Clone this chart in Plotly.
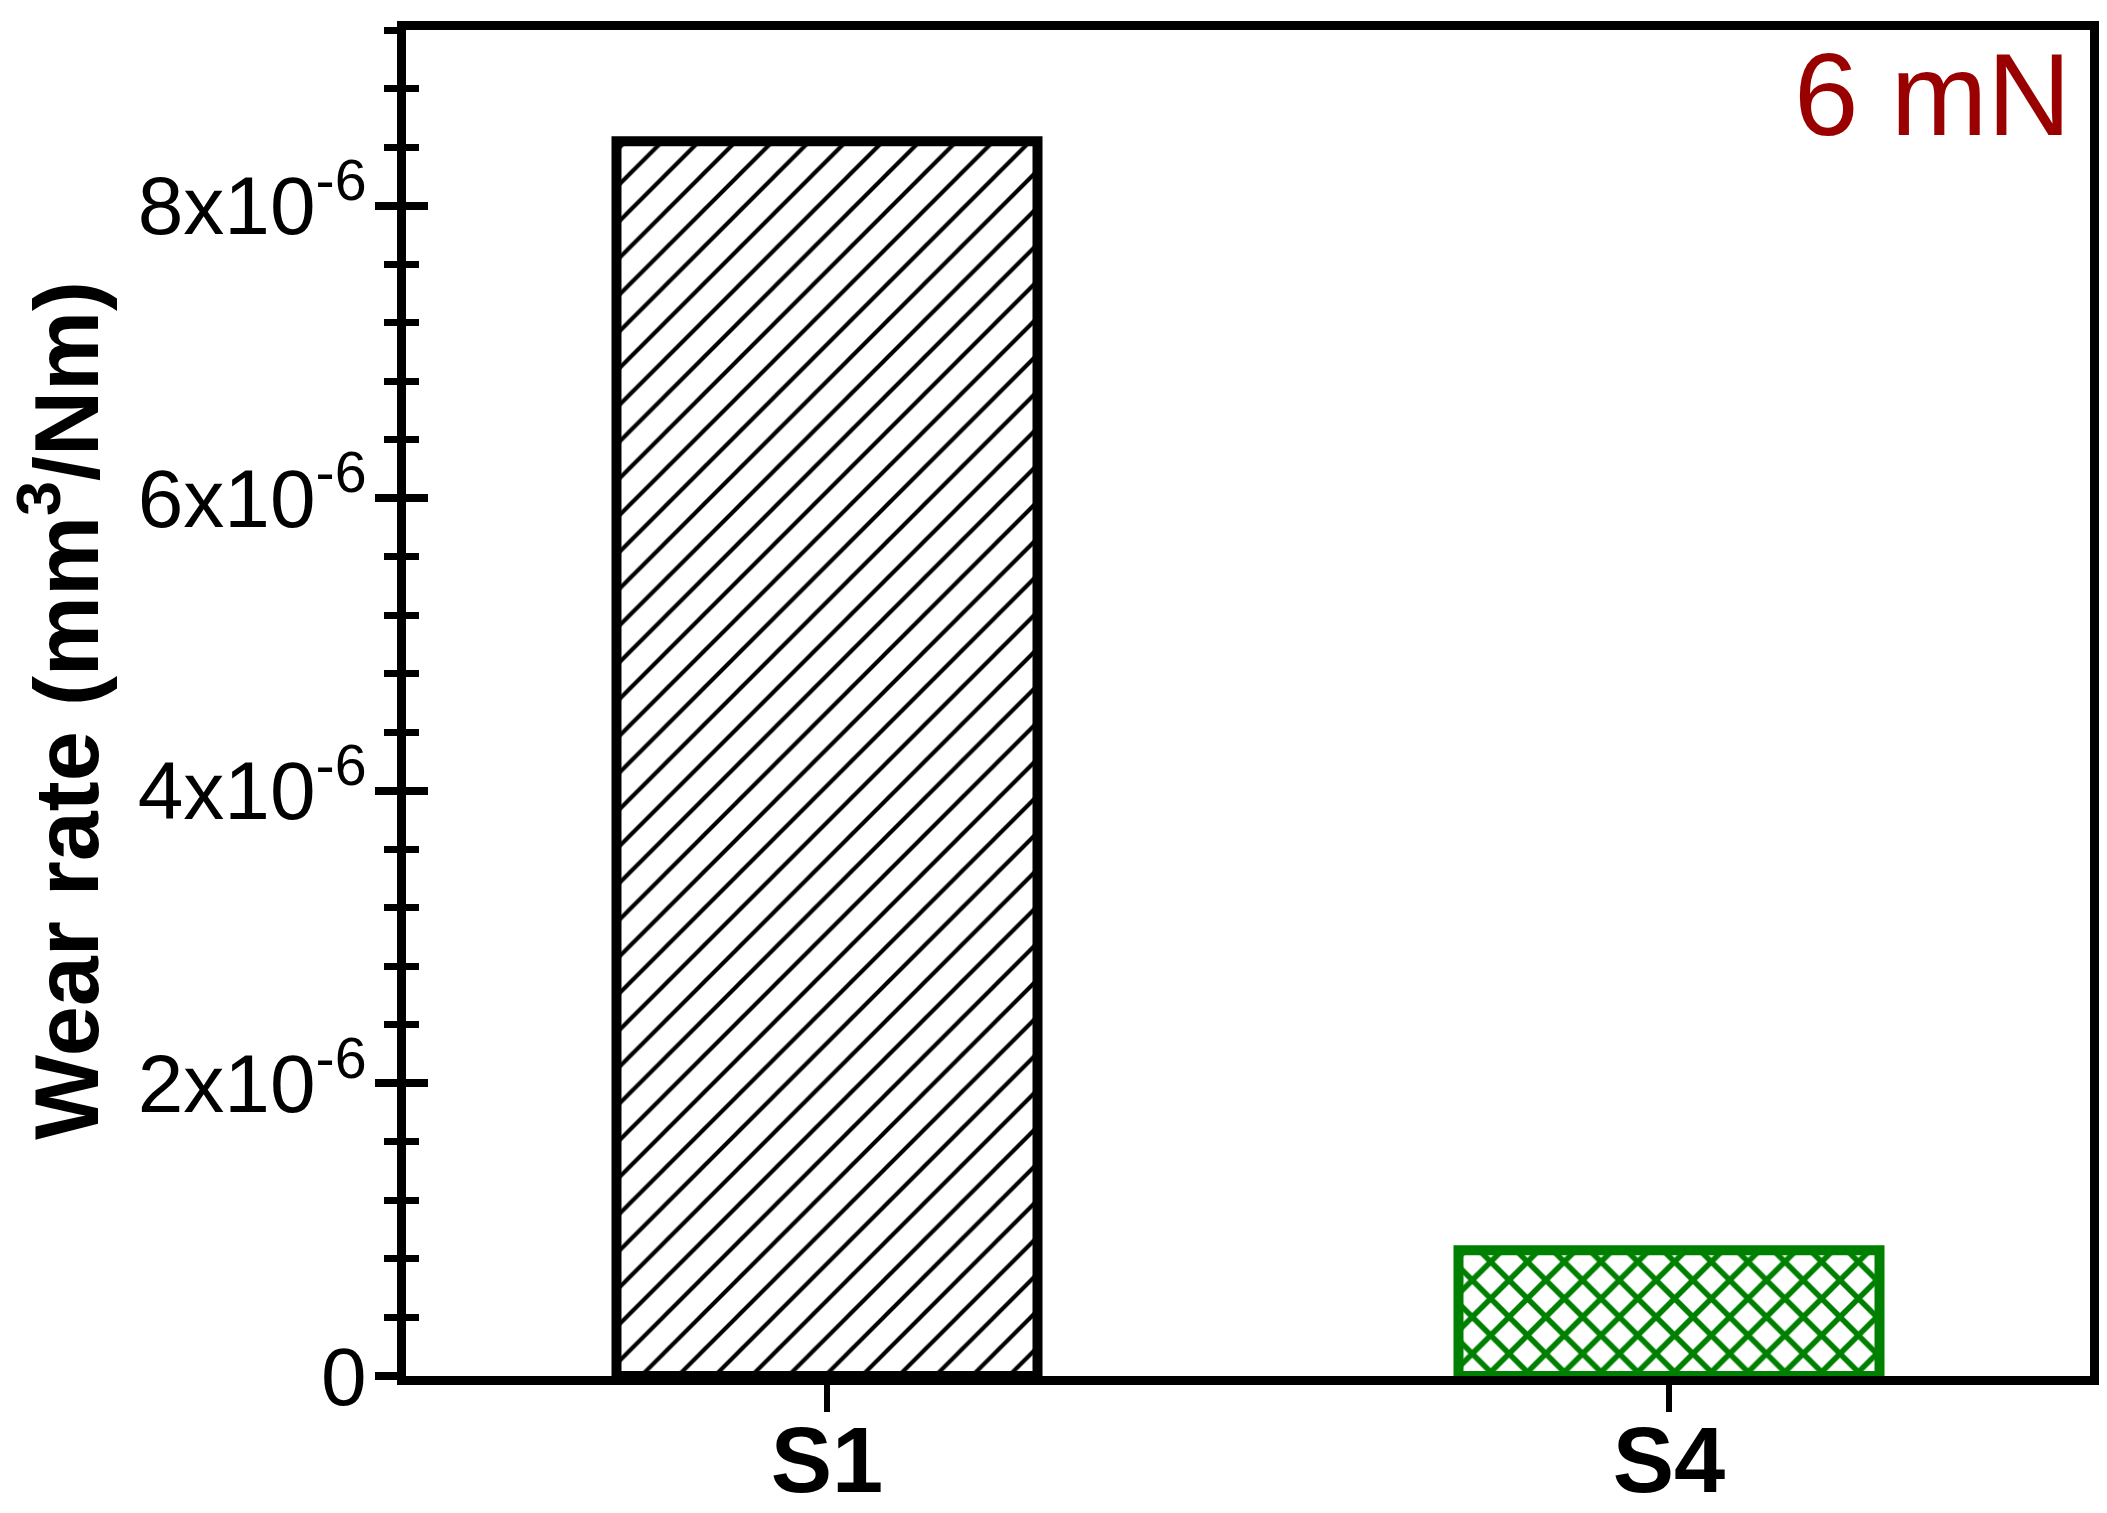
import plotly.graph_objects as go

# wear rate at 6 mN load
samples = ["S1", "S4"]
wear_rate = [8.44e-6, 0.86e-6]
bar_colors = ["black", "#008000"]
bar_patterns = ["/", "x"]

ytick_vals = [0, 2e-6, 4e-6, 6e-6, 8e-6]
ytick_text = ["0", "2x10<sup>-6</sup>", "4x10<sup>-6</sup>", "6x10<sup>-6</sup>", "8x10<sup>-6</sup>"]

font = "Arial, Liberation Sans, sans-serif"

fig = go.Figure()
fig.add_trace(go.Bar(
    x=samples,
    y=wear_rate,
    width=0.5,
    marker=dict(
        color="white",
        line=dict(color=bar_colors, width=10),
        pattern=dict(shape=bar_patterns, fgcolor=bar_colors, bgcolor="white",
                     size=26, solidity=[0.16, 0.38], fillmode="replace"),
    ),
    showlegend=False,
))
# empty trace so the overlay axis (inner half of the ticks) gets drawn
fig.add_trace(go.Scatter(x=[], y=[], yaxis="y2", showlegend=False))

fig.update_layout(
    width=2107,
    height=1513,
    margin=dict(l=398, r=25, t=22, b=145),
    plot_bgcolor="white",
    paper_bgcolor="white",
    font=dict(family=font, color="black"),
    xaxis=dict(
        range=[-0.5, 1.5], automargin=False,
        showline=True, linecolor="black", linewidth=9, mirror=True,
        ticks="outside", ticklen=27, tickwidth=6, tickcolor="black",
        tickfont=dict(family=font, size=92, weight="bold"),
        ticklabelstandoff=-30,
        showgrid=False, zeroline=False,
    ),
    yaxis=dict(
        range=[0, 9.2e-6], automargin=False,
        tickmode="array", tickvals=ytick_vals, ticktext=ytick_text,
        showline=True, linecolor="black", linewidth=9, mirror=True,
        ticks="outside", ticklen=22, tickwidth=8, tickcolor="black",
        minor=dict(ticks="outside", dtick=0.4e-6, tick0=0, ticklen=13, tickwidth=7, tickcolor="black"),
        tickfont=dict(size=82),
        ticklabelstandoff=-8,
        showgrid=False, zeroline=False,
    ),
    # second copy of the y axis, only to draw the inner half of the crossing ticks
    yaxis2=dict(
        overlaying="y", matches="y", anchor="x", side="left", automargin=False,
        range=[0, 9.2e-6],
        tickmode="array", tickvals=ytick_vals, showticklabels=False,
        ticks="inside", ticklen=22, tickwidth=8, tickcolor="black",
        minor=dict(ticks="inside", dtick=0.4e-6, tick0=0, ticklen=13, tickwidth=7, tickcolor="black"),
        showline=False, showgrid=False, zeroline=False,
    ),
)

fig.add_annotation(
    text="Wear rate (mm<sup>3</sup>/Nm)", textangle=-90,
    xref="paper", yref="paper", x=-0.2055, y=0.495,
    xanchor="center", yanchor="middle", showarrow=False,
    font=dict(family=font, size=90, weight="bold", color="black"),
)
fig.add_annotation(
    text="6 mN",
    xref="paper", yref="paper", x=0.99, y=0.952,
    xanchor="right", yanchor="middle", showarrow=False,
    font=dict(family=font, size=116, color="#990000"),
)

fig.write_html("out.html")
